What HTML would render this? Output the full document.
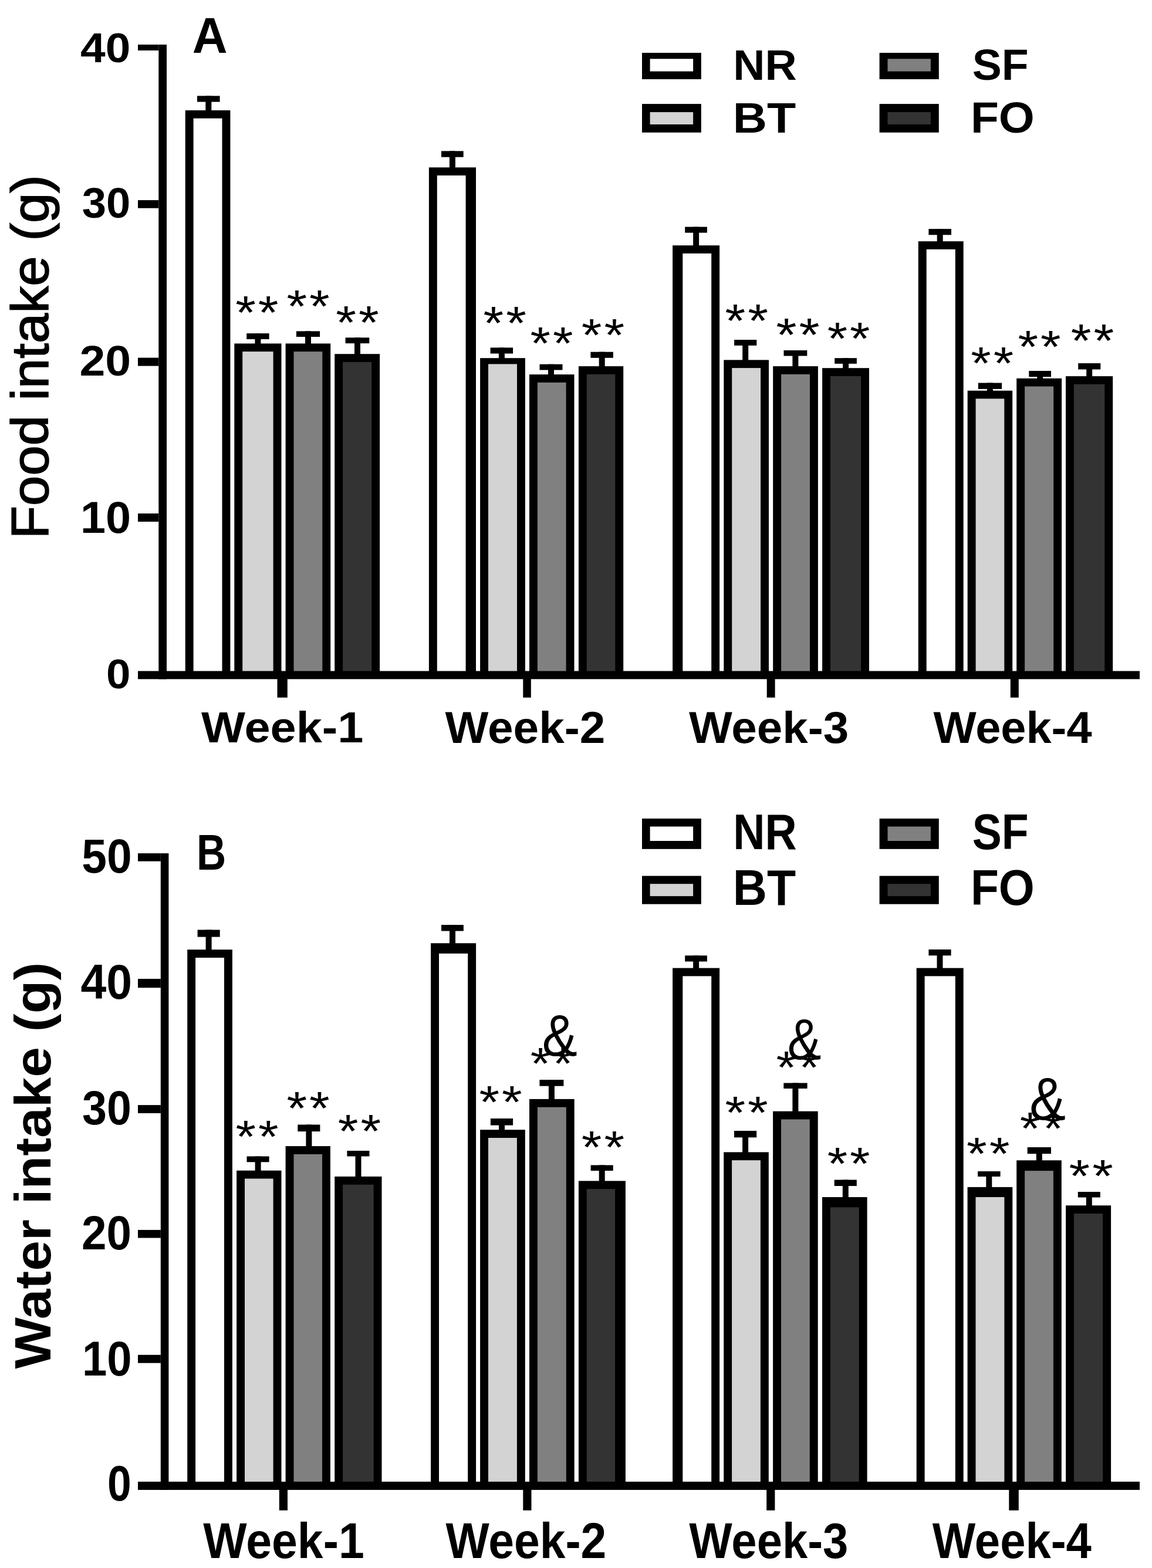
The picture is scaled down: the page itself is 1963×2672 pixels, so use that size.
<!DOCTYPE html>
<html><head><meta charset="utf-8"><title>Food and water intake</title>
<style>
html,body{margin:0;padding:0;background:#fff;}
svg{display:block;}
text{font-family:"Liberation Sans",Arial,sans-serif;font-size:100px;fill:#000;}
</style></head>
<body>
<svg width="1963" height="2672" viewBox="0 0 1963 2672">
<rect x="0" y="0" width="1963" height="2672" fill="#fff"/>
<rect x="270.3" y="76.0" width="13.7" height="1081.3" fill="#000"/>
<rect x="235.0" y="1143.5" width="1707.0" height="13.8" fill="#000"/>
<rect x="235.0" y="76.0" width="35.3" height="10.0" fill="#000"/>
<rect x="235.0" y="341.1" width="35.3" height="13.6" fill="#000"/>
<rect x="235.0" y="609.6" width="35.3" height="14.0" fill="#000"/>
<rect x="235.0" y="875.0" width="35.3" height="14.0" fill="#000"/>
<rect x="472.5" y="1156.3" width="17.3" height="32.4" fill="#000"/>
<rect x="891.3" y="1156.3" width="13.5" height="32.4" fill="#000"/>
<rect x="1306.7" y="1156.3" width="13.9" height="32.4" fill="#000"/>
<rect x="1721.8" y="1156.3" width="14.0" height="32.4" fill="#000"/>
<rect x="350.3" y="163.4" width="10.0" height="25.6" fill="#000"/>
<rect x="336.0" y="163.4" width="38.6" height="10.2" fill="#000"/>
<rect x="315.7" y="188.0" width="76.7" height="956.0" fill="#000"/>
<rect x="329.6" y="201.7" width="48.9" height="941.8" fill="#ffffff"/>
<rect x="434.4" y="568.1" width="10.0" height="18.3" fill="#000"/>
<rect x="420.2" y="568.1" width="38.4" height="9.9" fill="#000"/>
<rect x="399.3" y="585.4" width="80.2" height="558.6" fill="#000"/>
<rect x="413.2" y="599.1" width="52.4" height="544.4" fill="#d3d3d3"/>
<rect x="520.0" y="564.4" width="10.0" height="22.0" fill="#000"/>
<rect x="504.9" y="564.4" width="40.2" height="9.6" fill="#000"/>
<rect x="486.6" y="585.4" width="76.6" height="558.6" fill="#000"/>
<rect x="500.5" y="599.1" width="48.8" height="544.4" fill="#808080"/>
<rect x="604.0" y="575.3" width="10.0" height="28.9" fill="#000"/>
<rect x="588.6" y="575.3" width="40.7" height="9.8" fill="#000"/>
<rect x="570.2" y="603.2" width="76.9" height="540.8" fill="#000"/>
<rect x="584.1" y="616.9" width="49.1" height="526.6" fill="#333333"/>
<rect x="765.9" y="257.4" width="10.0" height="28.9" fill="#000"/>
<rect x="752.0" y="257.4" width="37.7" height="10.3" fill="#000"/>
<rect x="730.9" y="285.3" width="80.1" height="858.7" fill="#000"/>
<rect x="744.8" y="299.0" width="48.8" height="844.5" fill="#ffffff"/>
<rect x="849.9" y="592.4" width="10.0" height="18.8" fill="#000"/>
<rect x="835.6" y="592.4" width="38.5" height="10.1" fill="#000"/>
<rect x="818.1" y="610.2" width="76.8" height="533.8" fill="#000"/>
<rect x="832.0" y="620.4" width="49.0" height="523.1" fill="#d3d3d3"/>
<rect x="934.0" y="620.7" width="10.0" height="18.4" fill="#000"/>
<rect x="919.5" y="620.7" width="39.0" height="9.8" fill="#000"/>
<rect x="902.0" y="638.1" width="76.5" height="505.9" fill="#000"/>
<rect x="915.9" y="651.8" width="48.7" height="491.7" fill="#808080"/>
<rect x="1020.7" y="599.7" width="10.0" height="25.4" fill="#000"/>
<rect x="1006.4" y="599.7" width="38.5" height="10.1" fill="#000"/>
<rect x="985.9" y="624.1" width="76.3" height="519.9" fill="#000"/>
<rect x="999.8" y="637.8" width="48.5" height="505.7" fill="#333333"/>
<rect x="1181.1" y="386.6" width="10.0" height="32.6" fill="#000"/>
<rect x="1167.2" y="386.6" width="37.7" height="10.0" fill="#000"/>
<rect x="1146.1" y="418.2" width="80.0" height="725.8" fill="#000"/>
<rect x="1163.3" y="431.9" width="48.9" height="711.6" fill="#ffffff"/>
<rect x="1265.2" y="579.0" width="10.0" height="35.4" fill="#000"/>
<rect x="1251.1" y="579.0" width="38.2" height="9.8" fill="#000"/>
<rect x="1233.3" y="613.4" width="76.7" height="530.6" fill="#000"/>
<rect x="1247.2" y="627.1" width="48.9" height="516.4" fill="#d3d3d3"/>
<rect x="1350.4" y="597.0" width="10.0" height="28.1" fill="#000"/>
<rect x="1335.5" y="597.0" width="39.8" height="9.5" fill="#000"/>
<rect x="1317.2" y="624.1" width="76.7" height="519.9" fill="#000"/>
<rect x="1331.1" y="637.8" width="48.9" height="505.7" fill="#808080"/>
<rect x="1436.1" y="610.2" width="10.0" height="18.0" fill="#000"/>
<rect x="1422.2" y="610.2" width="37.7" height="9.6" fill="#000"/>
<rect x="1401.1" y="627.2" width="79.9" height="516.8" fill="#000"/>
<rect x="1415.0" y="640.9" width="52.1" height="502.6" fill="#333333"/>
<rect x="1596.7" y="390.1" width="10.0" height="22.1" fill="#000"/>
<rect x="1582.4" y="390.1" width="38.6" height="10.2" fill="#000"/>
<rect x="1564.8" y="411.2" width="76.9" height="732.8" fill="#000"/>
<rect x="1578.7" y="424.9" width="49.1" height="718.6" fill="#ffffff"/>
<rect x="1681.9" y="652.5" width="10.0" height="14.2" fill="#000"/>
<rect x="1666.8" y="652.5" width="40.3" height="10.4" fill="#000"/>
<rect x="1648.7" y="665.7" width="76.5" height="478.3" fill="#000"/>
<rect x="1662.6" y="679.4" width="48.7" height="464.1" fill="#d3d3d3"/>
<rect x="1767.2" y="632.0" width="10.0" height="13.8" fill="#000"/>
<rect x="1753.3" y="632.0" width="37.7" height="10.2" fill="#000"/>
<rect x="1732.2" y="644.8" width="76.9" height="499.2" fill="#000"/>
<rect x="1746.1" y="658.5" width="49.1" height="485.0" fill="#808080"/>
<rect x="1851.2" y="619.0" width="10.0" height="23.1" fill="#000"/>
<rect x="1837.2" y="619.0" width="38.1" height="10.5" fill="#000"/>
<rect x="1816.0" y="641.1" width="80.2" height="502.9" fill="#000"/>
<rect x="1829.9" y="654.8" width="52.4" height="488.7" fill="#333333"/>
<text transform="matrix(0.89100,0,0,0.79714,401.14,559.80)" letter-spacing="4.50">**</text>
<text transform="matrix(0.89100,0,0,0.78571,488.44,548.92)" letter-spacing="4.50">**</text>
<text transform="matrix(0.89100,0,0,0.78857,572.34,576.91)" letter-spacing="4.50">**</text>
<text transform="matrix(0.88973,0,0,0.80000,823.54,577.50)" letter-spacing="4.50">**</text>
<text transform="matrix(0.88720,0,0,0.78571,903.55,611.62)" letter-spacing="4.50">**</text>
<text transform="matrix(0.89100,0,0,0.78571,990.84,597.72)" letter-spacing="4.50">**</text>
<text transform="matrix(0.89227,0,0,0.79143,1235.44,573.51)" letter-spacing="4.50">**</text>
<text transform="matrix(0.89861,0,0,0.79143,1322.53,598.11)" letter-spacing="4.50">**</text>
<text transform="matrix(0.88340,0,0,0.77714,1409.75,604.13)" letter-spacing="4.50">**</text>
<text transform="matrix(0.88340,0,0,0.77429,1654.35,645.93)" letter-spacing="4.50">**</text>
<text transform="matrix(0.88847,0,0,0.78000,1734.55,618.43)" letter-spacing="4.50">**</text>
<text transform="matrix(0.89227,0,0,0.79143,1824.74,608.31)" letter-spacing="4.50">**</text>
<rect x="1094.0" y="90.0" width="100.8" height="45.0" fill="#000"/>
<rect x="1107.6" y="100.3" width="73.5" height="21.3" fill="#ffffff"/>
<rect x="1094.0" y="177.1" width="100.8" height="48.7" fill="#000"/>
<rect x="1107.6" y="191.1" width="73.5" height="20.9" fill="#d3d3d3"/>
<rect x="1498.6" y="90.0" width="101.2" height="45.0" fill="#000"/>
<rect x="1512.5" y="100.3" width="73.4" height="21.3" fill="#808080"/>
<rect x="1498.6" y="177.1" width="101.2" height="48.7" fill="#000"/>
<rect x="1512.5" y="191.1" width="73.4" height="20.9" fill="#333333"/>
<text transform="matrix(0.75055,0,0,0.72145,1249.23,135.60)" font-weight="bold">NR</text>
<text transform="matrix(0.80558,0,0,0.71855,1248.86,226.40)" font-weight="bold">BT</text>
<text transform="matrix(0.75041,0,0,0.73216,1656.65,136.27)" font-weight="bold">SF</text>
<text transform="matrix(0.78437,0,0,0.73216,1653.91,226.47)" font-weight="bold">FO</text>
<text transform="matrix(0.82836,0,0,0.85527,327.73,89.90)" font-weight="bold">A</text>
<text transform="matrix(0.76690,0,0,0.71095,137.05,105.59)" font-weight="bold">40</text>
<text transform="matrix(0.74190,0,0,0.71802,139.73,371.08)" font-weight="bold">30</text>
<text transform="matrix(0.78843,0,0,0.71802,135.44,639.68)" font-weight="bold">20</text>
<text transform="matrix(0.77426,0,0,0.75477,136.96,908.05)" font-weight="bold">10</text>
<text transform="matrix(0.74526,0,0,0.70954,181.02,1173.49)" font-weight="bold">0</text>
<text transform="matrix(0,-0.92219,0.88043,0,81.83,918.21)" stroke="#000" stroke-width="1.80">Food intake (g)</text>
<text transform="matrix(0.79332,0,0,0.74069,343.00,1264.96)" font-weight="bold">Week-1</text>
<text transform="matrix(0.78285,0,0,0.76648,758.60,1266.43)" font-weight="bold">Week-2</text>
<text transform="matrix(0.78171,0,0,0.76648,1174.00,1266.43)" font-weight="bold">Week-3</text>
<text transform="matrix(0.77554,0,0,0.76648,1590.41,1266.43)" font-weight="bold">Week-4</text>
<rect x="273.8" y="1454.1" width="13.6" height="1084.8" fill="#000"/>
<rect x="235.0" y="2524.9" width="1707.0" height="14.0" fill="#000"/>
<rect x="235.0" y="1454.1" width="38.8" height="13.6" fill="#000"/>
<rect x="235.0" y="1668.0" width="38.8" height="15.2" fill="#000"/>
<rect x="235.0" y="1883.1" width="38.8" height="13.9" fill="#000"/>
<rect x="235.0" y="2095.9" width="38.8" height="13.6" fill="#000"/>
<rect x="235.0" y="2308.8" width="38.8" height="13.9" fill="#000"/>
<rect x="475.8" y="2537.9" width="14.2" height="35.9" fill="#000"/>
<rect x="891.3" y="2537.9" width="14.2" height="35.9" fill="#000"/>
<rect x="1306.2" y="2537.9" width="14.2" height="35.9" fill="#000"/>
<rect x="1719.3" y="2537.9" width="16.5" height="35.9" fill="#000"/>
<rect x="350.6" y="1584.5" width="10.0" height="34.7" fill="#000"/>
<rect x="336.6" y="1584.5" width="38.1" height="12.1" fill="#000"/>
<rect x="319.2" y="1618.2" width="76.7" height="907.2" fill="#000"/>
<rect x="333.1" y="1632.0" width="48.9" height="892.9" fill="#ffffff"/>
<rect x="434.6" y="1970.5" width="10.0" height="25.2" fill="#000"/>
<rect x="420.5" y="1970.5" width="38.1" height="9.8" fill="#000"/>
<rect x="403.1" y="1994.7" width="76.4" height="530.7" fill="#000"/>
<rect x="417.0" y="2008.5" width="48.6" height="516.4" fill="#d3d3d3"/>
<rect x="521.4" y="1916.5" width="10.0" height="37.6" fill="#000"/>
<rect x="507.3" y="1916.5" width="38.1" height="11.6" fill="#000"/>
<rect x="486.6" y="1953.1" width="76.3" height="572.3" fill="#000"/>
<rect x="500.5" y="1966.9" width="48.5" height="558.0" fill="#808080"/>
<rect x="605.5" y="1961.0" width="10.0" height="44.9" fill="#000"/>
<rect x="591.4" y="1961.0" width="38.1" height="9.5" fill="#000"/>
<rect x="570.2" y="2004.9" width="80.3" height="520.5" fill="#000"/>
<rect x="584.1" y="2018.7" width="52.5" height="506.2" fill="#333333"/>
<rect x="766.0" y="1576.1" width="10.0" height="32.2" fill="#000"/>
<rect x="752.0" y="1576.1" width="37.9" height="10.4" fill="#000"/>
<rect x="734.1" y="1607.3" width="77.0" height="918.1" fill="#000"/>
<rect x="748.0" y="1624.9" width="49.2" height="900.0" fill="#ffffff"/>
<rect x="850.0" y="1906.0" width="10.0" height="20.2" fill="#000"/>
<rect x="835.9" y="1906.0" width="38.2" height="11.6" fill="#000"/>
<rect x="818.1" y="1925.2" width="76.7" height="600.2" fill="#000"/>
<rect x="832.0" y="1939.0" width="48.9" height="585.9" fill="#d3d3d3"/>
<rect x="934.9" y="1840.0" width="10.0" height="33.9" fill="#000"/>
<rect x="919.4" y="1840.0" width="41.0" height="10.7" fill="#000"/>
<rect x="902.0" y="1872.9" width="76.7" height="652.5" fill="#000"/>
<rect x="915.9" y="1886.7" width="48.9" height="638.2" fill="#808080"/>
<rect x="1020.7" y="1985.5" width="10.0" height="27.9" fill="#000"/>
<rect x="1006.6" y="1985.5" width="38.1" height="9.5" fill="#000"/>
<rect x="985.9" y="2012.4" width="80.0" height="513.0" fill="#000"/>
<rect x="999.8" y="2026.2" width="48.3" height="498.7" fill="#333333"/>
<rect x="1181.1" y="1628.3" width="10.0" height="22.3" fill="#000"/>
<rect x="1167.2" y="1628.3" width="37.7" height="10.2" fill="#000"/>
<rect x="1146.1" y="1649.6" width="80.0" height="875.8" fill="#000"/>
<rect x="1163.3" y="1663.4" width="48.9" height="861.5" fill="#ffffff"/>
<rect x="1265.1" y="1927.0" width="10.0" height="37.4" fill="#000"/>
<rect x="1251.0" y="1927.0" width="38.2" height="11.3" fill="#000"/>
<rect x="1233.2" y="1963.4" width="76.6" height="562.0" fill="#000"/>
<rect x="1247.1" y="1977.2" width="48.8" height="547.7" fill="#d3d3d3"/>
<rect x="1350.4" y="1845.5" width="10.0" height="49.2" fill="#000"/>
<rect x="1335.3" y="1845.5" width="40.3" height="9.5" fill="#000"/>
<rect x="1317.1" y="1893.7" width="76.6" height="631.7" fill="#000"/>
<rect x="1331.0" y="1907.5" width="48.8" height="617.4" fill="#808080"/>
<rect x="1435.8" y="2010.5" width="10.0" height="30.5" fill="#000"/>
<rect x="1421.7" y="2010.5" width="38.1" height="10.5" fill="#000"/>
<rect x="1401.0" y="2040.0" width="76.6" height="485.4" fill="#000"/>
<rect x="1414.9" y="2057.3" width="48.8" height="467.6" fill="#333333"/>
<rect x="1596.5" y="1618.0" width="10.0" height="32.6" fill="#000"/>
<rect x="1582.4" y="1618.0" width="38.2" height="10.3" fill="#000"/>
<rect x="1561.7" y="1649.6" width="80.0" height="875.8" fill="#000"/>
<rect x="1575.6" y="1663.4" width="52.2" height="861.5" fill="#ffffff"/>
<rect x="1680.3" y="1996.0" width="10.0" height="27.9" fill="#000"/>
<rect x="1666.1" y="1996.0" width="38.5" height="9.0" fill="#000"/>
<rect x="1648.6" y="2022.9" width="76.7" height="502.5" fill="#000"/>
<rect x="1662.5" y="2040.0" width="48.9" height="484.9" fill="#d3d3d3"/>
<rect x="1765.8" y="1955.0" width="10.0" height="23.3" fill="#000"/>
<rect x="1750.7" y="1955.0" width="40.3" height="11.1" fill="#000"/>
<rect x="1732.2" y="1977.3" width="76.6" height="548.1" fill="#000"/>
<rect x="1746.1" y="1995.1" width="48.8" height="529.8" fill="#808080"/>
<rect x="1850.8" y="2031.0" width="10.0" height="24.2" fill="#000"/>
<rect x="1836.8" y="2031.0" width="38.1" height="9.5" fill="#000"/>
<rect x="1816.1" y="2054.2" width="77.0" height="471.2" fill="#000"/>
<rect x="1830.0" y="2068.0" width="49.2" height="456.9" fill="#333333"/>
<text transform="matrix(0.88720,0,0,0.77429,401.55,1964.43)" letter-spacing="4.50">**</text>
<text transform="matrix(0.89100,0,0,0.79143,488.44,1916.41)" letter-spacing="4.50">**</text>
<text transform="matrix(0.89100,0,0,0.78857,575.74,1954.71)" letter-spacing="4.50">**</text>
<text transform="matrix(0.88847,0,0,0.77714,816.55,1905.23)" letter-spacing="4.50">**</text>
<text transform="matrix(0.88466,0,0,0.76571,903.65,1838.34)" letter-spacing="4.50">**</text>
<text transform="matrix(0.88973,0,0,0.78286,990.84,1982.32)" letter-spacing="4.50">**</text>
<text transform="matrix(0.89100,0,0,0.78571,1235.44,1923.02)" letter-spacing="4.50">**</text>
<text transform="matrix(0.89861,0,0,0.77714,1322.53,1846.23)" letter-spacing="4.50">**</text>
<text transform="matrix(0.88466,0,0,0.77429,1409.65,2009.83)" letter-spacing="4.50">**</text>
<text transform="matrix(0.89227,0,0,0.78286,1647.04,1993.02)" letter-spacing="4.50">**</text>
<text transform="matrix(0.90241,0,0,0.77429,1737.72,1950.33)" letter-spacing="4.50">**</text>
<text transform="matrix(0.91381,0,0,0.78286,1821.60,2031.12)" letter-spacing="4.50">**</text>
<text transform="matrix(0.90040,0,0,0.99359,923.85,1798.51)">&amp;</text>
<text transform="matrix(0.86478,0,0,0.98932,1341.77,1805.31)">&amp;</text>
<text transform="matrix(0.92632,0,0,1.01352,1754.26,1907.99)">&amp;</text>
<rect x="1094.0" y="1394.9" width="100.8" height="51.9" fill="#000"/>
<rect x="1107.6" y="1408.5" width="73.5" height="24.5" fill="#ffffff"/>
<rect x="1094.0" y="1492.6" width="100.8" height="48.1" fill="#000"/>
<rect x="1107.6" y="1506.2" width="73.5" height="20.9" fill="#d3d3d3"/>
<rect x="1498.6" y="1394.9" width="101.2" height="51.9" fill="#000"/>
<rect x="1512.5" y="1408.5" width="73.4" height="24.5" fill="#808080"/>
<rect x="1498.6" y="1492.6" width="101.2" height="48.1" fill="#000"/>
<rect x="1512.5" y="1506.2" width="73.4" height="20.9" fill="#333333"/>
<text transform="matrix(0.75055,0,0,0.84364,1249.23,1446.50)" font-weight="bold">NR</text>
<text transform="matrix(0.80558,0,0,0.84655,1248.86,1541.50)" font-weight="bold">BT</text>
<text transform="matrix(0.75041,0,0,0.84806,1656.65,1446.65)" font-weight="bold">SF</text>
<text transform="matrix(0.78437,0,0,0.84806,1653.91,1541.65)" font-weight="bold">FO</text>
<text transform="matrix(0.69508,0,0,0.85236,335.01,1481.70)" font-weight="bold">B</text>
<text transform="matrix(0.76731,0,0,0.81413,139.21,1486.99)" font-weight="bold">50</text>
<text transform="matrix(0.78771,0,0,0.83392,137.52,1702.17)" font-weight="bold">40</text>
<text transform="matrix(0.75333,0,0,0.82120,140.11,1916.08)" font-weight="bold">30</text>
<text transform="matrix(0.76434,0,0,0.81555,138.92,2128.88)" font-weight="bold">20</text>
<text transform="matrix(0.76040,0,0,0.84099,139.95,2344.16)" font-weight="bold">10</text>
<text transform="matrix(0.73263,0,0,0.85230,182.97,2557.45)" font-weight="bold">0</text>
<text transform="matrix(0,-0.92843,0.87680,0,85.57,2332.53)" font-weight="bold">Water intake (g)</text>
<text transform="matrix(0.78786,0,0,0.85244,346.30,2654.65)" font-weight="bold">Week-1</text>
<text transform="matrix(0.78634,0,0,0.85244,759.40,2654.65)" font-weight="bold">Week-2</text>
<text transform="matrix(0.77823,0,0,0.85244,1174.31,2654.65)" font-weight="bold">Week-3</text>
<text transform="matrix(0.77842,0,0,0.85244,1588.81,2654.65)" font-weight="bold">Week-4</text>
</svg>
</body></html>
